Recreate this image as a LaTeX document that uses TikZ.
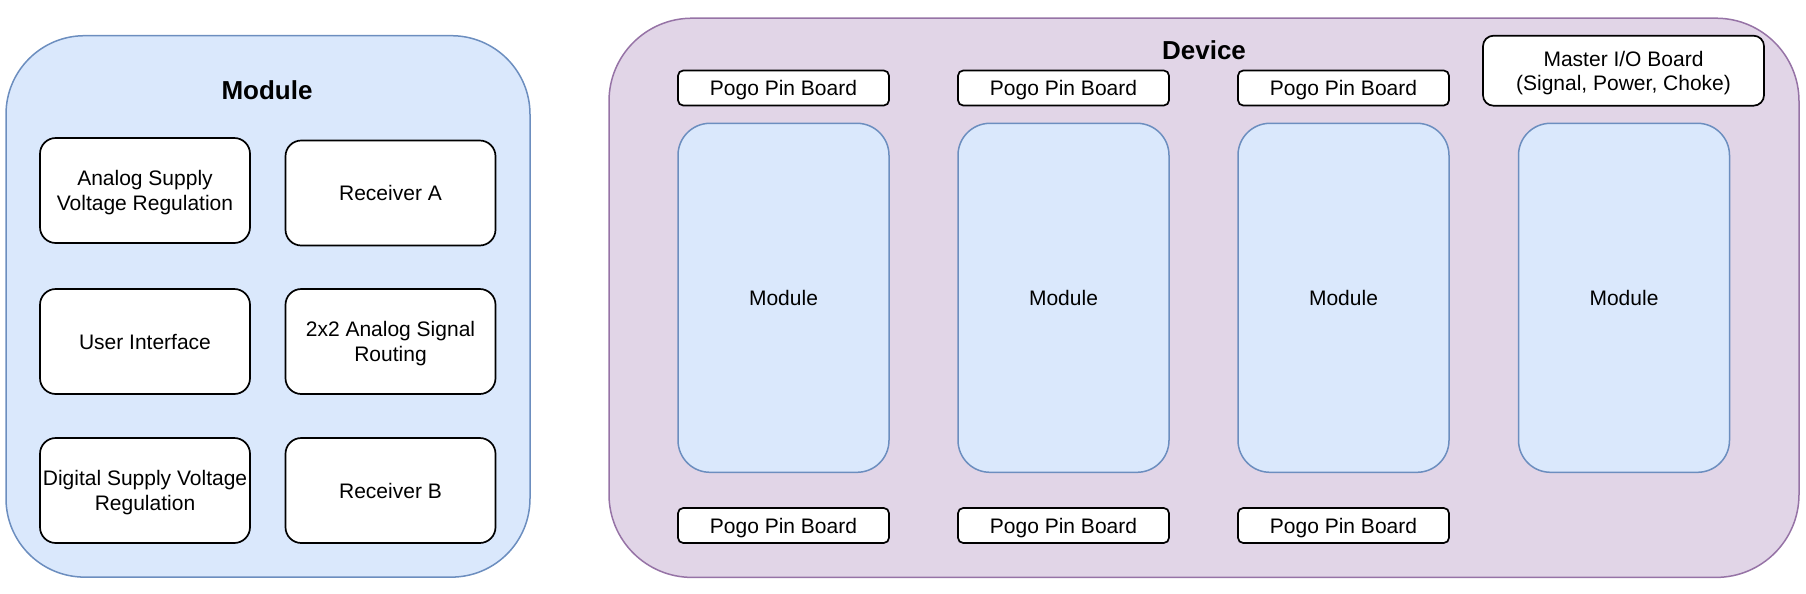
\documentclass[tikz,border=0pt]{standalone}
\usepackage{fontspec}
\setmainfont{Liberation Sans}
\definecolor{bluefill}{HTML}{DAE8FC}
\definecolor{bluedraw}{HTML}{6C8EBF}
\definecolor{purpfill}{HTML}{E1D5E7}
\definecolor{purpdraw}{HTML}{9673A6}
\tikzset{
  base/.style={inner sep=0pt, outer sep=0pt, align=center, text depth=0pt, font=\fontsize{10.5}{12.3}\selectfont},
  container/.style={base, fill=#1fill, draw=#1draw, line width=0.75pt},
  whitebox/.style={base, fill=white, draw=black, line width=0.85pt},
  title/.style={font=\fontsize{13}{15}\selectfont\bfseries, inner sep=0pt},
  sub/.style={whitebox, minimum width=105pt, minimum height=52.5pt, rounded corners=7.9pt},
  pogo/.style={whitebox, minimum width=105.5pt, minimum height=17.5pt, rounded corners=2.6pt},
  slot/.style={container=blue, minimum width=105.5pt, minimum height=174.5pt, rounded corners=16pt},
}
\begin{document}
\begin{tikzpicture}[x=0.5pt,y=-0.5pt]
\useasboundingbox (0,0) rectangle (1806,594);
% Module container
\node[container=blue, minimum width=262pt, minimum height=270.7pt, rounded corners=39.3pt] (modbig) at (268,306.4) {};
\node[title] (modtitle) at (267,90) {Module};
\node[sub] (asvr) at (145,190.5) {Analog Supply\\Voltage Regulation};
\node[sub] (reca) at (390.5,193) {Receiver A};
\node[sub] (ui) at (145,341.5) {User Interface};
\node[sub] (route) at (390.5,341.5) {2x2 Analog Signal\\Routing};
\node[sub] (dsvr) at (145,490.5) {Digital Supply Voltage\\Regulation};
\node[sub] (recb) at (390.5,490.5) {Receiver B};
% Device container
\node[container=purp, minimum width=595pt, minimum height=279.6pt, rounded corners=41.5pt] (dev) at (1204,297.8) {};
\node[title] (devtitle) at (1204,50) {Device};
\node[pogo] (pt1) at (783.5,88) {Pogo Pin Board};
\node[pogo] (pt2) at (1063.5,88) {Pogo Pin Board};
\node[pogo] (pt3) at (1343.5,88) {Pogo Pin Board};
\node[whitebox, minimum width=140.5pt, minimum height=35pt, rounded corners=5.25pt] (mio) at (1623.5,70.7) {Master I/O Board\\(Signal, Power, Choke)};
\node[slot] (m1) at (783.5,297.8) {Module};
\node[slot] (m2) at (1063.5,297.8) {Module};
\node[slot] (m3) at (1343.5,297.8) {Module};
\node[slot] (m4) at (1624,297.8) {Module};
\node[pogo] (pb1) at (783.5,525.5) {Pogo Pin Board};
\node[pogo] (pb2) at (1063.5,525.5) {Pogo Pin Board};
\node[pogo] (pb3) at (1343.5,525.5) {Pogo Pin Board};
\end{tikzpicture}
\end{document}
